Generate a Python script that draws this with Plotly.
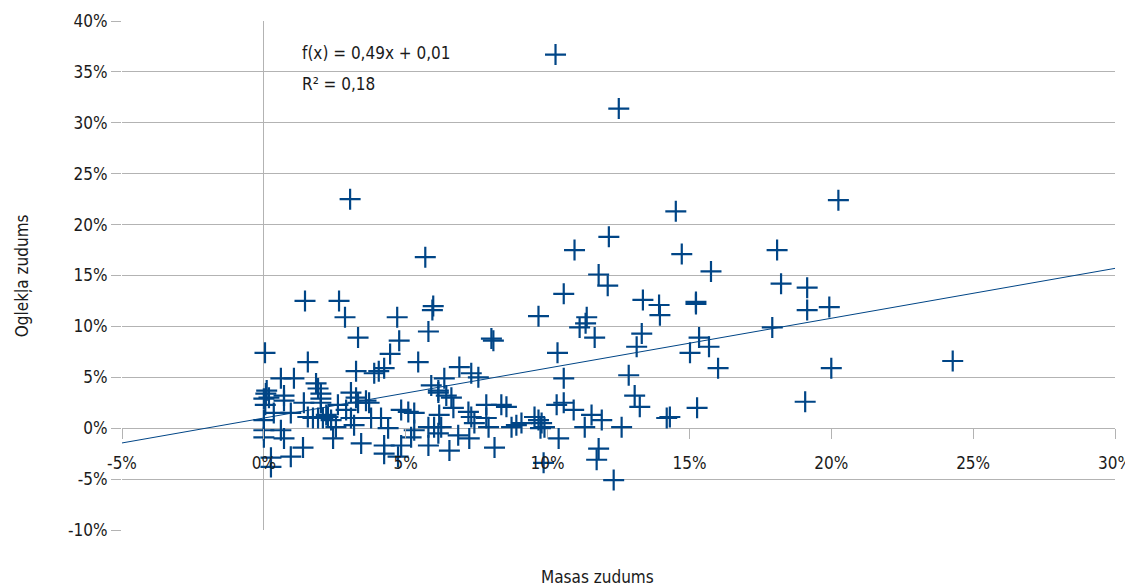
import plotly.graph_objects as go

# Scatter data, in percent
masas = [10.28, 12.51, 3.04, 20.25, 14.52, 12.16, 10.95, 14.73, 18.09, 5.69,
         15.76, 11.80, 18.23, 12.12, 19.15, 10.57, 1.45, 2.65, 13.36, 15.23,
         15.23, 13.93, 5.97, 5.94, 13.96, 2.86, 4.70, 9.68, 19.15, 19.93,
         11.38, 11.13, 11.34, 11.66, 17.92, 13.32, 15.34, 5.80, 3.32, 4.77,
         8.02, 13.14, 15.02, 15.69, 16.01, 12.86, 13.07, 13.25, 14.20, 14.31,
         15.27, 19.08, 12.61, 20.00, 24.28, 10.35, 10.57, 0.04, 1.55, 4.45,
         5.44, 3.25, 3.89, 4.05, 4.24, 0.60, 1.06, 1.84, 1.91, 2.01,
         2.01, 2.01, 0.07, 0.00, 0.18, 0.71, 1.41, 0.71, 3.07, 3.25,
         3.32, 3.60, 3.71, 2.61, 1.55, 1.73, 1.91, 2.08, 2.26, 2.37,
         0.95, 0.35, 0.00, 0.00, 0.00, 0.60, 0.71, 1.38, 0.95, 0.25,
         0.25, 2.44, 2.54, 3.07, 3.18, 3.43, 4.24, 4.24, 4.73, 4.84,
         4.38, 4.13, 3.78, 4.84, 5.09, 5.30, 5.30, 5.19, 5.80, 6.00,
         5.80, 5.90, 6.15, 8.09, 6.89, 7.31, 7.56, 6.36, 6.15, 6.43,
         6.61, 7.84, 8.37, 8.55, 6.68, 7.21, 7.31, 7.42, 7.84, 7.92,
         6.18, 6.25, 6.15, 6.85, 7.24, 6.54, 8.13, 8.73, 8.90, 9.08,
         9.54, 9.68, 9.79, 9.89, 9.75, 10.32, 10.57, 10.92, 11.31, 11.55,
         11.91, 10.39, 11.80, 11.73, 9.86, 12.33, 0.10, 0.05, 2.90, 2.20]
oglekla = [36.7, 31.4, 22.5, 22.4, 21.3, 18.8, 17.5, 17.1, 17.5, 16.8,
           15.4, 15.1, 14.2, 14.0, 13.8, 13.2, 12.5, 12.5, 12.6, 12.4,
           12.2, 12.1, 12.0, 11.6, 11.1, 10.9, 10.9, 11.0, 11.6, 11.9,
           10.9, 9.9, 10.3, 8.9, 9.9, 9.3, 8.9, 9.5, 8.9, 8.6,
           8.8, 8.0, 7.4, 8.0, 5.9, 5.2, 3.2, 2.1, 1.0, 1.1,
           2.0, 2.6, 0.1, 5.9, 6.6, 7.4, 4.9, 7.4, 6.5, 7.3,
           6.5, 5.6, 5.4, 5.6, 5.9, 4.9, 4.9, 4.4, 3.9, 3.4,
           2.9, 2.5, 3.4, 2.9, 3.0, 2.7, 2.5, 3.2, 3.5, 3.0,
           2.5, 2.7, 2.5, 2.3, 1.1, 1.0, 1.0, 1.0, 1.1, 0.8,
           1.5, 1.5, 0.8, -0.2, -0.9, -0.2, -1.0, -1.9, -2.8, -2.9,
           -3.8, -1.0, 0.1, 1.0, 0.3, -1.5, -1.7, -2.5, -2.8, -1.7,
           0.0, 1.0, 1.0, 1.8, 1.6, 1.5, -0.2, -0.9, 0.1, 0.1,
           -1.7, 4.2, 3.5, 8.6, 6.0, 5.4, 5.0, 4.9, 3.7, 3.2,
           3.0, 2.3, 2.3, 2.1, 2.0, 1.6, 1.1, 0.5, 1.0, 0.1,
           1.3, 0.1, -0.5, -0.7, -1.0, -2.2, -1.9, 0.1, 0.3, 0.5,
           1.1, 0.8, 0.5, 0.1, 0.0, 2.3, 2.5, 1.8, 0.1, 1.3,
           0.8, -1.0, -2.0, -3.1, -3.4, -5.1, 3.7, 2.3, 1.8, 1.3]

# Linear trend shown in the chart
slope, intercept = 0.49, 1.0
x_range = [-5, 30]
y_range = [-10, 40]
x_ticks = [-5, 0, 5, 10, 15, 20, 25, 30]
y_ticks = [-10, -5, 0, 5, 10, 15, 20, 25, 30, 35, 40]

blue = "#004586"
grid = "#b3b3b3"
font_family = "Liberation Sans Narrow, DejaVu Sans Condensed, sans-serif"

fig = go.Figure()

fig.add_trace(go.Scatter(
    x=x_range,
    y=[slope * v + intercept for v in x_range],
    mode="lines",
    line=dict(color=blue, width=1),
    hoverinfo="skip",
))

fig.add_trace(go.Scatter(
    x=masas, y=oglekla,
    mode="markers",
    marker=dict(symbol="cross-thin", size=15, line=dict(color=blue, width=2.2)),
))

fig.add_annotation(
    x=0.179, y=0.937, xref="paper", yref="paper",
    text="f(x) = 0,49x + 0,01", showarrow=False,
    xanchor="left", yanchor="middle",
    font=dict(size=17, color="#1a1a1a"),
)
fig.add_annotation(
    x=0.179, y=0.876, xref="paper", yref="paper",
    text="R² = 0,18", showarrow=False,
    xanchor="left", yanchor="middle",
    font=dict(size=17, color="#1a1a1a"),
)

# axis titles
fig.add_annotation(
    x=0.479, y=-0.092, xref="paper", yref="paper",
    text="Masas zudums", showarrow=False,
    xanchor="center", yanchor="middle",
    font=dict(size=17, color="#1a1a1a"),
)
fig.add_annotation(
    x=-0.101, y=0.5, xref="paper", yref="paper",
    text="Oglekļa zudums", showarrow=False, textangle=-90,
    xanchor="center", yanchor="middle",
    font=dict(size=17, color="#1a1a1a"),
)

# x axis sits on y = 0
x_pos = (0 - y_range[0]) / (y_range[1] - y_range[0])

fig.update_layout(
    width=1125, height=580,
    margin=dict(l=114, r=18, t=13, b=58, autoexpand=False),
    paper_bgcolor="white",
    plot_bgcolor="white",
    showlegend=False,
    font=dict(family=font_family, size=17, color="#1a1a1a"),
    xaxis=dict(
        range=x_range,
        tickvals=x_ticks,
        ticktext=[f"{v}%" for v in x_ticks],
        showgrid=False,
        zeroline=True, zerolinecolor=grid, zerolinewidth=1,
        showline=False,
        ticks="outside", ticklen=10, tickcolor=grid,
        ticklabelstandoff=9,
        anchor="free", position=x_pos,
        automargin=False,
    ),
    yaxis=dict(
        range=y_range,
        tickvals=y_ticks,
        ticktext=[f"{v}%" for v in y_ticks],
        showgrid=True, gridcolor=grid, gridwidth=1,
        zeroline=False,
        showline=False,
        ticks="outside", ticklen=10, tickcolor=grid,
        automargin=False,
    ),
)

fig.write_html("out.html")
